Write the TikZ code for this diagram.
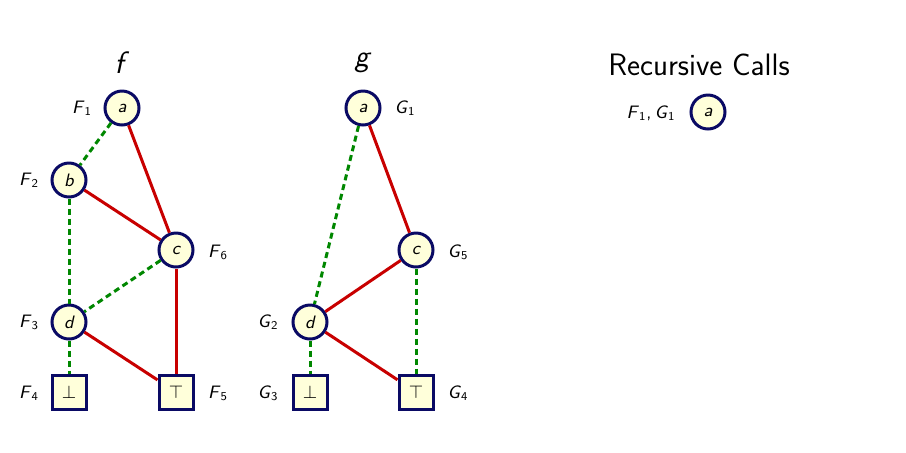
\documentclass[tikz,border=0pt]{standalone}
\usepackage{fontspec}
\setmainfont{Latin Modern Sans}
\usetikzlibrary{positioning}
\definecolor{navy}{RGB}{10,10,100}
\definecolor{nodefill}{RGB}{255,255,218}
\definecolor{hi}{RGB}{200,0,0}
\definecolor{lo}{RGB}{0,135,0}
\newcommand{\mylab}[2]{\textit{#1}\textsubscript{#2}}
\begin{document}
\begin{tikzpicture}[x=0.5pt,y=-0.5pt,
  vnode/.style={circle,draw=navy,fill=nodefill,line width=1.5pt,minimum size=17pt,inner sep=0pt,font=\fontsize{9}{10}\selectfont\itshape},
  tnode/.style={rectangle,draw=navy,fill=nodefill,line width=1.5pt,minimum size=17pt,inner sep=0pt,font=\fontsize{9}{10}\selectfont},
  lbl/.style={font=\fontsize{9}{10}\selectfont},
  ttl/.style={font=\fontsize{15.5}{18}\selectfont},
  hiedge/.style={draw=hi,line width=1.5pt},
  loedge/.style={draw=lo,line width=1.5pt,dash pattern=on 3pt off 2pt}]
\useasboundingbox (0,0) rectangle (906,452);
% f
\node[ttl] (tf) at (122,63) {\textit{f}};
\node[vnode] (fa) at (122,108) {a};
\node[vnode] (fb) at (69,180) {b};
\node[vnode] (fc) at (176,250) {c};
\node[vnode] (fd) at (69,322) {d};
\node[tnode] (fbot) at (69,392) {$\bot$};
\node[tnode] (ftop) at (176,392) {$\top$};
\node[lbl] (lF1) at (82,108) {\mylab{F}{1}};
\node[lbl] (lF2) at (29,180) {\mylab{F}{2}};
\node[lbl] (lF6) at (218,252) {\mylab{F}{6}};
\node[lbl] (lF3) at (29,322) {\mylab{F}{3}};
\node[lbl] (lF4) at (29,393) {\mylab{F}{4}};
\node[lbl] (lF5) at (218,393) {\mylab{F}{5}};
\draw[loedge] (fa) -- (fb);
\draw[hiedge] (fa) -- (fc);
\draw[hiedge] (fb) -- (fc);
\draw[loedge] (fb) -- (fd);
\draw[loedge] (fc) -- (fd);
\draw[hiedge] (fc) -- (ftop);
\draw[loedge] (fd) -- (fbot);
\draw[hiedge] (fd) -- (ftop);
% g
\node[ttl] (tg) at (363,63) {\textit{g}};
\node[vnode] (ga) at (363,108) {a};
\node[vnode] (gc) at (416,250) {c};
\node[vnode] (gd) at (310,322) {d};
\node[tnode] (gbot) at (310,392) {$\bot$};
\node[tnode] (gtop) at (416,392) {$\top$};
\node[lbl] (lG1) at (405,108) {\mylab{G}{1}};
\node[lbl] (lG5) at (458,252) {\mylab{G}{5}};
\node[lbl] (lG2) at (268,322) {\mylab{G}{2}};
\node[lbl] (lG3) at (268,393) {\mylab{G}{3}};
\node[lbl] (lG4) at (458,393) {\mylab{G}{4}};
\draw[loedge] (ga) -- (gd);
\draw[hiedge] (ga) -- (gc);
\draw[hiedge] (gc) -- (gd);
\draw[loedge] (gc) -- (gtop);
\draw[loedge] (gd) -- (gbot);
\draw[hiedge] (gd) -- (gtop);
% recursive calls
\node[ttl] (trc) at (699,65) {Recursive Calls};
\node[vnode] (ra) at (708,112) {a};
\node[lbl] (lr) at (651,113) {\mylab{F}{1},\,\mylab{G}{1}};
\end{tikzpicture}
\end{document}
